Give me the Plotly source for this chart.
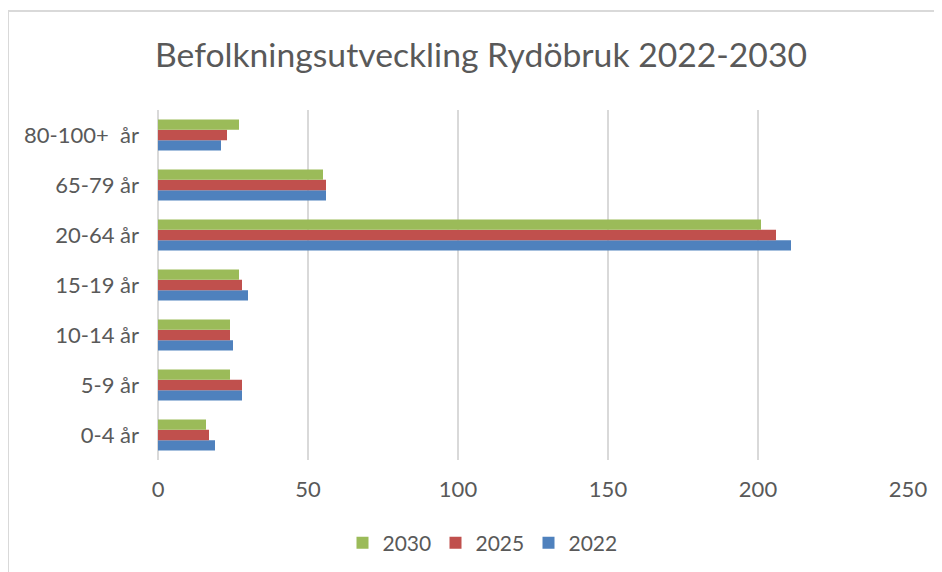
import plotly.graph_objects as go

categories = ["0-4 år", "5-9 år", "10-14 år", "15-19 år", "20-64 år", "65-79 år", "80-100+\u00a0 år"]
values_2022 = [19, 28, 25, 30, 211, 56, 21]
values_2025 = [17, 28, 24, 28, 206, 56, 23]
values_2030 = [16, 24, 24, 27, 201, 55, 27]
x_ticks = [0, 50, 100, 150, 200, 250]

FONT = "Lato"
TXT = "#595959"
GRID = "#d9d9d9"

fig = go.Figure()
fig.add_trace(go.Bar(y=categories, x=values_2022, name="2022", orientation="h",
                     marker=dict(color="#4F81BD", line=dict(width=0))))
fig.add_trace(go.Bar(y=categories, x=values_2025, name="2025", orientation="h",
                     marker=dict(color="#C0504D", line=dict(width=0))))
fig.add_trace(go.Bar(y=categories, x=values_2030, name="2030", orientation="h",
                     marker=dict(color="#9BBB59", line=dict(width=0))))

# page has an 8px body margin; work in screen coords and shift
OFF = 8
W, H = 942 - OFF, 572 - OFF
L, T = 158 - OFF, 110 - OFF
R = W - (908 - OFF)
B = H - (460 - OFF)
pw, ph = W - L - R, H - T - B

def px(x):
    return (x - OFF - L) / pw

def py(y):
    return (H - B - (y - OFF)) / ph

fig.update_layout(
    width=W, height=H,
    margin=dict(l=L, r=R, t=T, b=B, autoexpand=False),
    paper_bgcolor="white", plot_bgcolor="white",
    font=dict(family=FONT, color=TXT, size=22),
    barmode="group", bargap=0.38, bargroupgap=0,
    title=dict(text="Befolkningsutveckling Rydöbruk 2022-2030",
               font=dict(family=FONT, size=33.7, color=TXT),
               x=(481 - OFF) / W, xanchor="center", xref="container",
               y=1 - (55 - OFF) / H, yanchor="middle", yref="container"),
    xaxis=dict(range=[0, 250], tickvals=x_ticks, showgrid=True, gridcolor=GRID,
               gridwidth=2, zeroline=True, zerolinecolor=GRID, zerolinewidth=2,
               showline=False, ticks="", ticklabelstandoff=14,
               tickfont=dict(family=FONT, size=22, color=TXT), fixedrange=True),
    yaxis=dict(showgrid=False, zeroline=False, showline=False, ticks="",
               ticklabelstandoff=18,
               tickfont=dict(family=FONT, size=22, color=TXT), fixedrange=True),
    legend=dict(orientation="h", traceorder="reversed",
                x=px(482), xanchor="center", y=py(543), yanchor="middle",
                entrywidth=48, itemwidth=30,
                font=dict(family=FONT, size=21, color=TXT),
                bgcolor="rgba(0,0,0,0)"),
    showlegend=True,
    shapes=[
        dict(type="line", xref="paper", yref="paper",
             x0=px(8), x1=px(8), y0=py(11), y1=py(580),
             line=dict(color=GRID, width=2)),
        dict(type="line", xref="paper", yref="paper",
             x0=px(8), x1=px(950), y0=py(11), y1=py(11),
             line=dict(color=GRID, width=2)),
    ],
)

fig.write_html("out.html")
